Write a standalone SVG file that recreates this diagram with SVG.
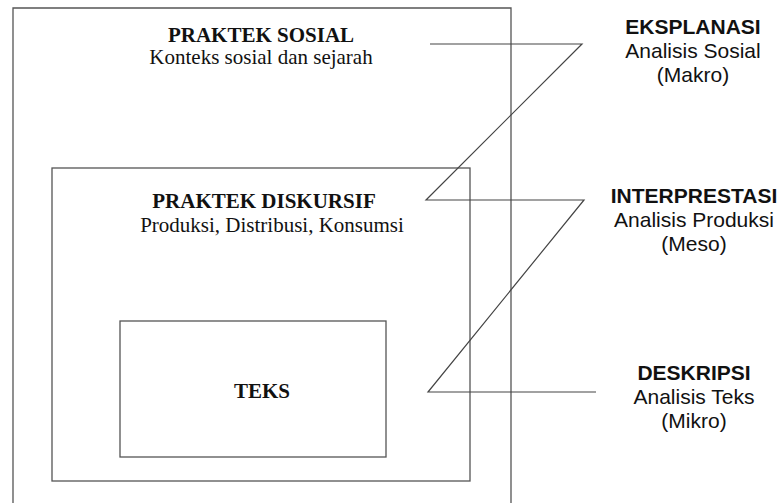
<svg xmlns="http://www.w3.org/2000/svg" width="780" height="503" viewBox="0 0 780 503">
<style>
.box{fill:none;stroke:#555;stroke-width:1.3}
.ln{fill:none;stroke:#444;stroke-width:1.2}
.sb{font-family:"Liberation Serif",serif;font-weight:bold;font-size:21px;fill:#111;text-anchor:middle}
.sr{font-family:"Liberation Serif",serif;font-size:21px;fill:#111;text-anchor:middle}
.ab{font-family:"Liberation Sans",Arial,sans-serif;font-weight:bold;font-size:21px;fill:#111;text-anchor:middle}
.ar{font-family:"Liberation Sans",Arial,sans-serif;font-size:21px;fill:#111;text-anchor:middle}
</style>
<rect width="780" height="503" fill="#fff"/>
<g id="praktek-sosial">
<path class="box" d="M13 510 V8 H511 V510"/>
<text class="sb" x="261" y="42">PRAKTEK SOSIAL</text>
<text class="sr" x="261" y="64">Konteks sosial dan sejarah</text>
</g>
<g id="praktek-diskursif">
<rect class="box" x="52" y="168" width="418" height="313"/>
<text class="sb" x="264" y="208">PRAKTEK DISKURSIF</text>
<text class="sr" x="272" y="232">Produksi, Distribusi, Konsumsi</text>
</g>
<g id="teks">
<rect class="box" x="120" y="321" width="266" height="136"/>
<text class="sb" x="262" y="398">TEKS</text>
</g>
<g id="eksplanasi">
<text class="ab" x="693" y="34">EKSPLANASI</text>
<text class="ar" x="693" y="58">Analisis Sosial</text>
<text class="ar" x="693" y="82">(Makro)</text>
</g>
<g id="interprestasi">
<text class="ab" x="694" y="203">INTERPRESTASI</text>
<text class="ar" x="694" y="227">Analisis Produksi</text>
<text class="ar" x="694" y="251">(Meso)</text>
</g>
<g id="deskripsi">
<text class="ab" x="694" y="380">DESKRIPSI</text>
<text class="ar" x="694" y="404">Analisis Teks</text>
<text class="ar" x="694" y="428">(Mikro)</text>
</g>
<g id="connectors">
<polyline class="ln" points="430,44 582,44 426,200 584,200 428,392 596,392"/>
</g>
</svg>
